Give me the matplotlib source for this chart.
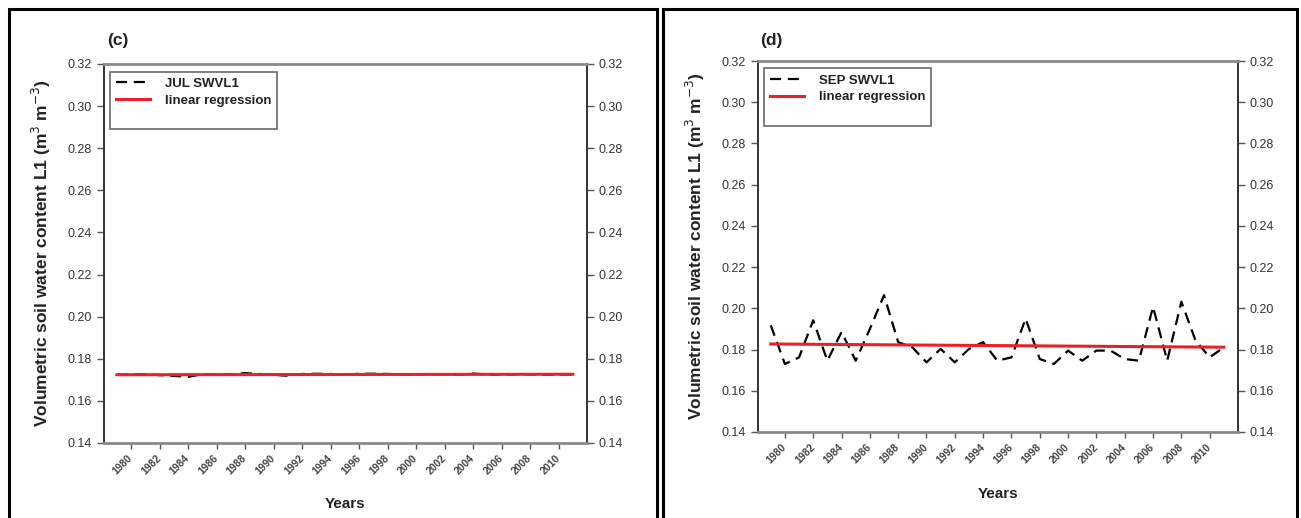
"""
    Title: Monthly SWVL1 (JUL / SEP) time series with linear regression, panels (c) and (d)
"""
import sys

import matplotlib
matplotlib.use("Agg")
import matplotlib.pyplot as plt
import numpy as np
from matplotlib.lines import Line2D
from matplotlib.patches import Rectangle

years = list(range(1979, 2012))

jul_swvl1 = [0.1724, 0.1725, 0.1727, 0.1722, 0.1719, 0.1714, 0.1727, 0.1724, 0.1726,
             0.1732, 0.1728, 0.1724, 0.1719, 0.1728, 0.1729, 0.1728, 0.1724, 0.1729,
             0.1729, 0.1728, 0.1725, 0.1724, 0.1726, 0.1726, 0.1724, 0.1730, 0.1725,
             0.1724, 0.1726, 0.1726, 0.1724, 0.1725, 0.1725]

sep_swvl1 = [0.1918, 0.1730, 0.1762, 0.1942, 0.1746, 0.1885, 0.1746, 0.1900, 0.2064,
             0.1836, 0.1811, 0.1738, 0.1803, 0.1738, 0.1803, 0.1836, 0.1746, 0.1762,
             0.1950, 0.1754, 0.1730, 0.1795, 0.1746, 0.1795, 0.1795, 0.1754, 0.1746,
             0.2007, 0.1746, 0.2032, 0.1844, 0.1762, 0.1811]

year_ticks = list(range(1980, 2011, 2))
value_ticks = [0.14, 0.16, 0.18, 0.20, 0.22, 0.24, 0.26, 0.28, 0.30, 0.32]

panels = [
    {"tag": "(c)", "name": "JUL SWVL1", "values": jul_swvl1},
    {"tag": "(d)", "name": "SEP SWVL1", "values": sep_swvl1},
]

W, H = 1301, 518


class SoilWaterChart:
    """
    class to draw the two soil water panels side by side
    """

    def fig_box(self, left, top, right, bottom):
        # pixel box -> figure fraction [left, bottom, width, height]
        return [left / W, (H - bottom) / H, (right - left) / W, (bottom - top) / H]

    def draw_panel(self, fig, box, panel, tag_x, ylab_x, xlab_y):
        ax = fig.add_axes(self.fig_box(*box))
        x = np.array(years)
        y = np.array(panel["values"])

        # regression line from the data itself
        slope, icpt = np.polyfit(x, y, 1)
        ax.plot(x, y, color="black", lw=1.6, ls=(0, (5, 3)), zorder=2)
        ax.plot(x, slope * x + icpt, color="#e8202a", lw=2.2, zorder=3)

        ax.set_xlim(1978.1, 2012.0)
        ax.set_ylim(0.14, 0.32)
        ax.set_yticks(value_ticks)
        ax.set_yticklabels(["%.2f" % v for v in value_ticks])
        ax.set_xticks(year_ticks)
        ax.set_xticklabels([str(t) for t in year_ticks], rotation=45, ha="right",
                           va="center", rotation_mode="anchor", fontsize=7.5,
                           color="#444444", fontweight="bold")
        ax.tick_params(axis="x", direction="out", length=4, width=1, color="#555555", pad=6)
        ax.tick_params(axis="y", direction="out", length=5, width=1, color="#555555",
                       labelsize=9, labelcolor="#333333", right=True, labelright=True)

        for side in ["top", "bottom"]:
            ax.spines[side].set_color("#8a8a8a")
            ax.spines[side].set_linewidth(2.0)
        for side in ["left", "right"]:
            ax.spines[side].set_color("#333333")
            ax.spines[side].set_linewidth(1.4)

        ax.set_ylabel("Volumetric soil water content L1 (m$^3$ m$^{-3}$)",
                      fontsize=12.5, fontweight="bold", color="#222222")
        ax.yaxis.set_label_coords(ylab_x, 0.5)
        ax.set_xlabel("Years", fontsize=11, fontweight="bold", color="#222222")
        ax.xaxis.set_label_coords(0.5, xlab_y)

        handles = [Line2D([], [], color="black", lw=1.6, ls=(0, (5, 3))),
                   Line2D([], [], color="#e8202a", lw=2.2),
                   Line2D([], [], ls="none")]
        labels = [panel["name"], "linear regression", ""]
        leg = ax.legend(handles, labels, loc="upper left", bbox_to_anchor=(0.012, 0.98),
                        borderaxespad=0, fancybox=False, handlelength=2.6,
                        prop={"size": 9.5, "weight": "bold"}, labelspacing=0.35,
                        borderpad=0.45, handletextpad=1.1)
        leg.get_frame().set_edgecolor("#444444")
        leg.get_frame().set_linewidth(1.2)
        for txt in leg.get_texts():
            txt.set_color("#222222")

        fig.text(tag_x / W, (H - 40) / H, panel["tag"], fontsize=12.5, fontweight="bold",
                 color="#222222", ha="left", va="center")
        return ax

    def display_chart(self):
        """
        Description:
            Draws panels (c) and (d) and saves them to out.png
        """
        try:
            plt.rcParams["font.family"] = ["Liberation Sans", "DejaVu Sans"]
            fig = plt.figure(figsize=(W / 100, H / 100), dpi=100)

            # panel frames
            for x0, x1 in [(9, 657), (663, 1297)]:
                fig.add_artist(Rectangle((x0 / W, -0.1), (x1 - x0) / W, (H - 9) / H + 0.1,
                                         transform=fig.transFigure, fill=False,
                                         edgecolor="black", lw=2.2))

            self.draw_panel(fig, (104, 64, 587, 443), panels[0], 107, -0.106, -0.143)
            self.draw_panel(fig, (758, 61, 1238, 432), panels[1], 760, -0.106, -0.148)

            fig.savefig("out.png", dpi=100)
        except Exception:
            exception_type, _, exception_traceback = sys.exc_info()
            print(f"Exception type : {exception_type} \nError on line number : "
                  f"{exception_traceback.tb_lineno}")


if __name__ == "__main__":
    chart = SoilWaterChart()
    chart.display_chart()
